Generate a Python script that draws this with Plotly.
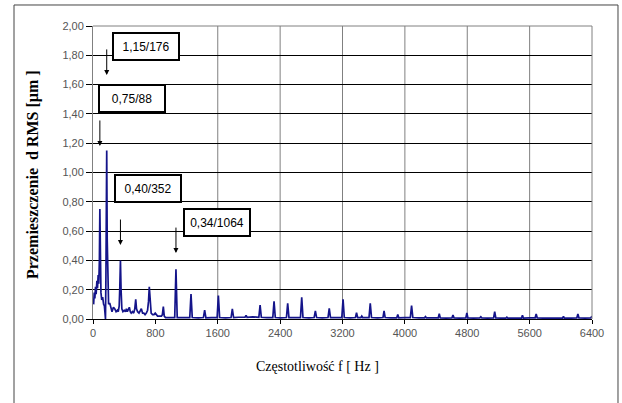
import plotly.graph_objects as go

# Vibration displacement spectrum (RMS) vs frequency
freq_hz = [
    8, 16, 24, 32, 40, 50, 58, 66, 74, 82, 88, 94, 102, 112, 124, 136, 146, 154, 160,
    166, 172, 176, 182, 190, 200, 214, 228, 244, 262, 278, 296, 312, 324, 336, 344, 352,
    360, 370, 384, 400, 416, 428, 440, 452, 466, 478, 490, 506, 522, 536, 548, 558, 572,
    590, 606, 620, 636, 652, 668, 684, 700, 712, 722, 732, 746, 764, 782, 798, 812, 828,
    846, 862, 878, 890, 902, 914, 930,
    1048, 1064, 1080, 1160, 1241, 1257, 1273, 1350, 1416, 1432, 1448, 1520,
    1592, 1608, 1624, 1700, 1771, 1787, 1803, 1870, 1950, 1963, 1976, 2050,
    2127, 2143, 2159, 2230, 2306, 2322, 2338, 2410, 2481, 2497, 2513, 2590,
    2661, 2677, 2693, 2770, 2836, 2852, 2868, 2940, 3014, 3030, 3046, 3120,
    3191, 3207, 3223, 3300, 3366, 3380, 3394, 3436, 3447, 3458, 3540, 3556, 3572, 3650,
    3719, 3733, 3747, 3820, 3896, 3909, 3922, 4000, 4070, 4086, 4102, 4180,
    4252, 4264, 4276, 4350, 4428, 4441, 4454, 4530, 4604, 4617, 4630, 4700,
    4782, 4795, 4808, 4880, 4962, 4974, 4986, 5060, 5138, 5152, 5166, 5230,
    5296, 5308, 5320, 5400, 5496, 5508, 5520, 5600, 5671, 5684, 5697, 5770,
    5850, 5860, 5870, 5950, 6022, 6034, 6046, 6130, 6206, 6219, 6232, 6310, 6386, 6398,
]
amp_um = [
    0.10, 0.18, 0.14, 0.22, 0.17, 0.26, 0.21, 0.30, 0.24, 0.40, 0.75, 0.35, 0.18, 0.13, 0.15, 0.10, 0.09, 0.04, 0.00,
    0.30, 0.90, 1.15, 0.55, 0.14, 0.10, 0.11, 0.07, 0.05, 0.08, 0.07, 0.05, 0.06, 0.05, 0.09, 0.22, 0.40,
    0.20, 0.07, 0.05, 0.06, 0.05, 0.07, 0.05, 0.06, 0.08, 0.05, 0.04, 0.05, 0.04, 0.07, 0.135, 0.07, 0.05,
    0.04, 0.06, 0.07, 0.04, 0.04, 0.03, 0.04, 0.06, 0.12, 0.22, 0.10, 0.04, 0.03, 0.03, 0.04, 0.03, 0.02,
    0.02, 0.02, 0.02, 0.03, 0.084, 0.02, 0.01,
    0.01, 0.34, 0.01, 0.012, 0.01, 0.17, 0.01, 0.008, 0.01, 0.06, 0.008, 0.01,
    0.01, 0.16, 0.01, 0.008, 0.01, 0.07, 0.01, 0.012, 0.012, 0.025, 0.012, 0.015,
    0.012, 0.095, 0.012, 0.01, 0.01, 0.12, 0.01, 0.008, 0.01, 0.107, 0.01, 0.01,
    0.01, 0.148, 0.01, 0.008, 0.01, 0.055, 0.01, 0.008, 0.01, 0.072, 0.01, 0.01,
    0.01, 0.135, 0.01, 0.008, 0.01, 0.043, 0.01, 0.01, 0.02, 0.01, 0.01, 0.107, 0.01, 0.008,
    0.01, 0.055, 0.01, 0.008, 0.008, 0.03, 0.008, 0.01, 0.01, 0.092, 0.01, 0.008,
    0.008, 0.016, 0.008, 0.008, 0.008, 0.037, 0.008, 0.006, 0.008, 0.027, 0.008, 0.006,
    0.008, 0.042, 0.008, 0.006, 0.008, 0.015, 0.008, 0.006, 0.008, 0.05, 0.008, 0.006,
    0.006, 0.012, 0.006, 0.006, 0.006, 0.025, 0.006, 0.008, 0.008, 0.035, 0.008, 0.006,
    0.006, 0.01, 0.006, 0.006, 0.006, 0.018, 0.006, 0.006, 0.008, 0.035, 0.008, 0.006, 0.008, 0.02,
]

x_tick_vals = [0, 800, 1600, 2400, 3200, 4000, 4800, 5600, 6400]
x_tick_text = ["0", "800", "1600", "2400", "3200", "4000", "4800", "5600", "6400"]
x_grid_vals = [1600, 2400, 3200, 4000, 4800, 5600]

# Labelled peaks: "amplitude/frequency"
peak_labels = ["0,75/88", "1,15/176", "0,40/352", "0,34/1064"]
peak_freq = [88, 176, 352, 1064]
# label box centres and arrow tips (data units)
box_x = [494, 685, 705, 1590]
box_y = [1.507, 1.859, 0.894, 0.662]
arrow_tip_y = [1.181, 1.666, 0.505, 0.45]

fig = go.Figure()
fig.add_trace(go.Scatter(
    x=freq_hz, y=amp_um, mode="lines",
    line=dict(color="#14148a", width=1.7),
    hoverinfo="x+y", showlegend=False,
))

tick_font = dict(family="Liberation Sans, Arial", size=11, color="#555555")

fig.update_layout(
    width=622, height=403,
    margin=dict(l=93, r=30, t=26, b=84),
    paper_bgcolor="white", plot_bgcolor="white",
    separators=",.",
    showlegend=False,
)
fig.update_xaxes(
    range=[0, 6400], tickvals=x_tick_vals, ticktext=x_tick_text,
    showgrid=False, zeroline=False,
    showline=True, linecolor="#000000", linewidth=1,
    ticks="outside", ticklen=4, tickcolor="#000000",
    tickfont=tick_font,
)
fig.update_yaxes(
    range=[0, 2], dtick=0.2, tickformat=".2f",
    showgrid=True, gridcolor="#000000", gridwidth=1,
    zeroline=False, showline=True, linecolor="#808080", linewidth=1,
    ticks="outside", ticklen=6, tickcolor="#000000",
    tickfont=tick_font,
)

# vertical grid lines
for gx in x_grid_vals:
    fig.add_shape(type="line", xref="x", yref="paper", x0=gx, x1=gx, y0=0, y1=1,
                  line=dict(color="#808080", width=1), layer="below")
# top and right edges of the plot area
fig.add_shape(type="line", xref="paper", yref="paper", x0=0, x1=1, y0=1, y1=1,
              line=dict(color="#808080", width=1))
fig.add_shape(type="line", xref="paper", yref="paper", x0=1, x1=1, y0=0, y1=1,
              line=dict(color="#808080", width=1))
# outer chart frame (bottom edge runs below the visible page)
fig.add_shape(type="rect", xref="paper", yref="paper",
              x0=-0.1583, x1=1.0521, y0=-0.36, y1=1.0717,
              line=dict(color="#444444", width=1))

# peak labels with arrows
for txt, f, bx, by, ty in zip(peak_labels, peak_freq, box_x, box_y, arrow_tip_y):
    fig.add_annotation(x=bx, y=by, xref="x", yref="y", text=txt, showarrow=False,
                       xanchor="center", yanchor="middle",
                       font=dict(family="Liberation Sans, Arial", size=12, color="#000000"),
                       bgcolor="white", bordercolor="#000000", borderwidth=2, borderpad=1,
                       width=62, height=23)
    fig.add_annotation(x=f, y=ty, xref="x", yref="y", text="", showarrow=True,
                       ax=0, ay=-27, arrowhead=2, arrowsize=1, arrowwidth=1,
                       arrowcolor="#000000")

# axis titles
fig.add_annotation(x=-0.1202, y=0.4915, xref="paper", yref="paper",
                   xanchor="center", yanchor="middle",
                   text="<b>Przemieszczenie  d RMS [µm ]</b>", textangle=-90,
                   showarrow=False,
                   font=dict(family="Liberation Serif, Times New Roman", size=16, color="#000000"))
fig.add_annotation(x=0.4509, y=-0.1638, xref="paper", yref="paper",
                   xanchor="center", yanchor="middle",
                   text="Częstotliwość f [ Hz ]", showarrow=False,
                   font=dict(family="Liberation Serif, Times New Roman", size=14, color="#000000"))

fig.write_html("out.html")
